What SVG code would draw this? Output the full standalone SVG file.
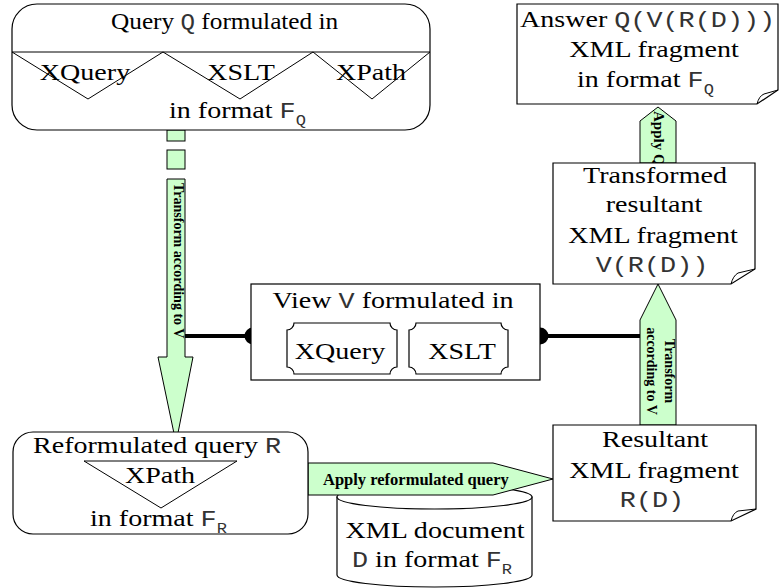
<svg xmlns="http://www.w3.org/2000/svg" width="784" height="588" viewBox="0 0 784 588">
<style>
.s{font-family:"Liberation Serif",serif;font-size:23px;fill:#000}
.m{font-family:"Liberation Mono",monospace;font-size:22px;fill:#333}
.sub{font-size:14px}
.b{font-family:"Liberation Serif",serif;font-weight:bold;font-size:14px;fill:#000}
.box{fill:#fff;stroke:#000;stroke-width:1.2}
.arr{fill:#ccffcc;stroke:#000;stroke-width:1}
.ln{fill:none;stroke:#000;stroke-width:1}
.wire{fill:none;stroke:#000;stroke-width:4}
.mid{text-anchor:middle}
</style>
<rect width="784" height="588" fill="#fff"/>

<g id="document">
  <path class="box" d="M337,497 V575 A97.5,12 0 0 0 532,575 V497 Z"/>
  <ellipse class="box" cx="434.5" cy="497" rx="97.5" ry="12"/>
  <text class="s mid" transform="translate(435,538) scale(1.22,1)">XML document</text>
  <text class="s" transform="translate(352,567) scale(1.22,1)"><tspan class="m">D</tspan> in format <tspan class="m">F</tspan><tspan class="m sub" dy="7">R</tspan></text>
</g>

<g id="connectors">
  <rect class="arr" x="167" y="130" width="18" height="11"/>
  <rect class="arr" x="167" y="150" width="18" height="19"/>
  <path class="arr" d="M167,179 H185 V357 H193 L176,443 L158,357 H167 Z"/>
  <text class="b" transform="translate(174,183) rotate(90)">Transform according to V</text>
  <path class="arr" d="M640,425 V320 L658,284 L676,320 V425 Z"/>
  <text class="b mid" transform="translate(665,371) rotate(90)">Transform</text>
  <text class="b mid" transform="translate(647,371) rotate(90)">according to V</text>
  <path class="arr" d="M640,163 V121 L658,107 L676,121 V163 Z"/>
  <text class="b" transform="translate(654,111) rotate(90)" style="font-size:15px">Apply Q</text>
  <path class="arr" d="M308,463 H493 L553,479 L493,495 H308 Z"/>
  <text class="b" x="323" y="485" style="font-size:16.5px">Apply reformulated query</text>
  <path class="wire" d="M185,336 H253"/>
  <path class="wire" d="M540,336 H640"/>
  <circle cx="253" cy="336" r="8.5" fill="#000"/>
  <circle cx="540" cy="336" r="8.5" fill="#000"/>
</g>

<g id="query">
  <rect class="box" x="12" y="4" width="418" height="126" rx="25"/>
  <path class="ln" d="M12,52 H430"/>
  <polyline class="ln" points="12,52 88,99 163,52 240,99 313,52 372,99 430,52"/>
  <text class="s" transform="translate(111,29) scale(1.1,1)">Query <tspan class="m">Q</tspan> formulated in</text>
  <text class="s mid" transform="translate(85,80) scale(1.22,1)">XQuery</text>
  <text class="s mid" transform="translate(241,80) scale(1.22,1)">XSLT</text>
  <text class="s mid" transform="translate(371,80) scale(1.22,1)">XPath</text>
  <text class="s" transform="translate(169,118) scale(1.22,1)">in format <tspan class="m">F</tspan><tspan class="m sub" dy="7">Q</tspan></text>
</g>

<g id="answer">
  <path class="box" d="M517,4 H778 V90 L757,104 H517 Z"/>
  <path class="ln" d="M757,104 Q759,96 764,94 L778,90"/>
  <text class="s" transform="translate(520,27) scale(1.22,1)">Answer <tspan class="m">Q(V(R(D)))</tspan></text>
  <text class="s mid" transform="translate(654,57) scale(1.22,1)">XML fragment</text>
  <text class="s" transform="translate(577,87) scale(1.22,1)">in format <tspan class="m">F</tspan><tspan class="m sub" dy="7">Q</tspan></text>
</g>

<g id="transformed">
  <path class="box" d="M553,163 H755 V269 L731,284 H553 Z"/>
  <path class="ln" d="M731,284 Q733,276 738,273 L755,269"/>
  <text class="s mid" transform="translate(655,183) scale(1.22,1)">Transformed</text>
  <text class="s mid" transform="translate(654,212) scale(1.22,1)">resultant</text>
  <text class="s mid" transform="translate(653,243) scale(1.22,1)">XML fragment</text>
  <text class="m mid" transform="translate(652,272) scale(1.22,1)">V(R(D))</text>
</g>

<g id="view">
  <rect class="box" x="251" y="284" width="289" height="96"/>
  <text class="s mid" transform="translate(393,308) scale(1.22,1)">View <tspan class="m">V</tspan> formulated in</text>
  <path class="box" d="M294,323 H390 A7,7 0 0 0 397,330 V367 A7,7 0 0 0 390,374 H294 A7,7 0 0 0 287,367 V330 A7,7 0 0 0 294,323 Z"/>
  <path class="box" d="M416,323 H501 A7,7 0 0 0 508,330 V367 A7,7 0 0 0 501,374 H416 A7,7 0 0 0 409,367 V330 A7,7 0 0 0 416,323 Z"/>
  <text class="s mid" transform="translate(340,359) scale(1.22,1)">XQuery</text>
  <text class="s mid" transform="translate(462,359) scale(1.22,1)">XSLT</text>
</g>

<g id="reformulated">
  <rect class="box" x="13" y="432" width="295" height="102" rx="20"/>
  <polygon class="ln" points="84,461 161,508 237,461"/>
  <text class="s" transform="translate(33,453) scale(1.22,1)">Reformulated query <tspan class="m">R</tspan></text>
  <text class="s mid" transform="translate(160,483) scale(1.22,1)">XPath</text>
  <text class="s" transform="translate(90,526) scale(1.22,1)">in format <tspan class="m">F</tspan><tspan class="m sub" dy="7">R</tspan></text>
</g>

<g id="resultant">
  <path class="box" d="M553,425 H756 V509 L731,521 H553 Z"/>
  <path class="ln" d="M731,521 Q733,513 738,511 L756,509"/>
  <text class="s mid" transform="translate(655,447) scale(1.22,1)">Resultant</text>
  <text class="s mid" transform="translate(654,478) scale(1.22,1)">XML fragment</text>
  <text class="m mid" transform="translate(652,507) scale(1.22,1)">R(D)</text>
</g>
</svg>
